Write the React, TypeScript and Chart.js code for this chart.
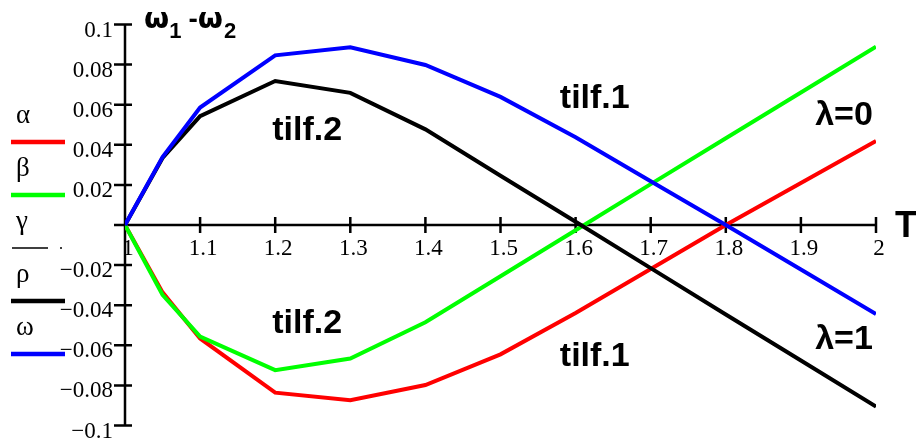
import { useEffect, useRef } from "react";
import { Chart, registerables } from "chart.js";

Chart.register(...registerables);

// Sample points of the period ratio T
const T = [1, 1.05, 1.1, 1.2, 1.3, 1.4, 1.5, 1.6, 1.7, 1.8, 1.9, 2];

// Frequency difference ω1-ω2 for each trace
const alpha = [0, -0.0336, -0.0566, -0.0836, -0.0874, -0.0798, -0.0645, -0.0439, -0.0219, 0, 0.021, 0.0419];
const beta = [0, -0.0348, -0.0556, -0.0724, -0.0666, -0.0485, -0.0256, -0.0026, 0.0204, 0.0433, 0.0661, 0.0889];
const rho = [0, 0.0334, 0.0543, 0.0718, 0.0659, 0.0477, 0.0246, 0.0016, -0.0215, -0.0446, -0.0676, -0.0906];
const omega = [0, 0.0339, 0.0586, 0.0846, 0.0886, 0.0798, 0.0639, 0.0438, 0.0218, 0, -0.0222, -0.0444];

// Axis ticks
const xTickValues = [1, 1.1, 1.2, 1.3, 1.4, 1.5, 1.6, 1.7, 1.8, 1.9, 2];
const xTickLabels = ["1", "1.1", "1.2", "1.3", "1.4", "1.5", "1.6", "1.7", "1.8", "1.9", "2"];
const yTickValues = [0.1, 0.08, 0.06, 0.04, 0.02, 0, -0.02, -0.04, -0.06, -0.08, -0.1];
const yTickLabels = ["0.1", "0.08", "0.06", "0.04", "0.02", "", "−0.02", "−0.04", "−0.06", "−0.08", "−0.1"];

// Trace legend (Greek symbol above a line sample)
const legendSymbols = ["α", "β", "γ", "ρ", "ω"];
const legendColors = ["#ff0000", "#00ff00", "#000000", "#000000", "#0000ff"];

// Text labels placed in data coordinates (left edge, baseline)
const noteTexts = ["tilf.2", "tilf.2", "tilf.1", "tilf.1", "λ=0", "λ=1"];
const noteT = [1.196, 1.196, 1.579, 1.579, 1.919, 1.919];
const noteY = [0.0422, -0.0538, 0.0583, -0.0703, 0.0498, -0.0618];

const SERIF = "'Liberation Serif', 'Times New Roman', serif";
const SANS = "'Liberation Sans', Arial, sans-serif";
const GREEK_BOLD = "'DejaVu Sans', 'Liberation Sans', sans-serif";

const toPoints = (ys: number[]) => T.map((t, i) => ({ x: t, y: ys[i] }));

const mathcadAxes = {
  id: "mathcadAxes",
  beforeDatasetsDraw(chart: any) {
    const { ctx } = chart;
    const xs = chart.scales.x;
    const ys = chart.scales.y;
    const x0 = xs.getPixelForValue(1);
    const x1 = xs.getPixelForValue(2);
    const y0 = ys.getPixelForValue(0);
    const yTop = ys.getPixelForValue(0.1);
    const yBot = ys.getPixelForValue(-0.1);
    ctx.save();
    ctx.strokeStyle = "#000";
    ctx.lineWidth = 2.5;
    ctx.lineCap = "butt";
    ctx.beginPath();
    ctx.moveTo(x0, yTop);
    ctx.lineTo(x0, yBot);
    ctx.moveTo(x0, y0);
    ctx.lineTo(x1, y0);
    yTickValues.forEach((v) => {
      const py = ys.getPixelForValue(v);
      ctx.moveTo(x0 - 11, py);
      ctx.lineTo(x0 + 7, py);
    });
    xTickValues.forEach((v) => {
      if (v === 1) return;
      const px = xs.getPixelForValue(v);
      ctx.moveTo(px, y0 - 8);
      ctx.lineTo(px, y0 + 8);
    });
    ctx.stroke();
    ctx.restore();
  },
  afterDraw(chart: any) {
    const { ctx } = chart;
    const xs = chart.scales.x;
    const ys = chart.scales.y;
    const x0 = xs.getPixelForValue(1);
    const x1 = xs.getPixelForValue(2);
    const y0 = ys.getPixelForValue(0);
    ctx.save();
    ctx.fillStyle = "#000";
    ctx.textBaseline = "alphabetic";

    // tick labels
    ctx.font = `23px ${SERIF}`;
    ctx.textAlign = "right";
    yTickValues.forEach((v, i) => {
      if (!yTickLabels[i]) return;
      ctx.fillText(yTickLabels[i], x0 - 12, ys.getPixelForValue(v) + 12);
    });
    ctx.textAlign = "center";
    xTickValues.forEach((v, i) => {
      ctx.fillText(xTickLabels[i], xs.getPixelForValue(v) + 3, y0 + 30);
    });

    // y-axis title: ω1-ω2
    ctx.textAlign = "left";
    let tx = x0 + 19;
    const piece = (s: string, font: string, base: number, gap = 0) => {
      ctx.font = font;
      ctx.fillText(s, tx, base);
      tx += ctx.measureText(s).width + gap;
    };
    piece("ω", `bold 29px ${GREEK_BOLD}`, 28, 0);
    piece("1", `bold 22px ${SANS}`, 38, 7);
    piece("-", `bold 28px ${SANS}`, 28, 0);
    piece("ω", `bold 29px ${GREEK_BOLD}`, 28, 1);
    piece("2", `bold 22px ${SANS}`, 38, 0);

    // x-axis title
    ctx.font = `bold 36px ${SANS}`;
    ctx.fillText("T", x1 + 19, y0 + 12);

    // annotations
    ctx.font = `bold 34px ${SANS}`;
    noteTexts.forEach((s, i) => {
      ctx.fillText(s, xs.getPixelForValue(noteT[i]), ys.getPixelForValue(noteY[i]));
    });

    // legend
    legendSymbols.forEach((s, i) => {
      const ly = 142 + i * 53;
      ctx.font = `27px ${SERIF}`;
      ctx.fillStyle = "#000";
      ctx.fillText(s, 16, ly - 19);
      ctx.strokeStyle = legendColors[i];
      ctx.beginPath();
      if (s === "γ") {
        ctx.lineWidth = 1.5;
        ctx.setLineDash([36, 12, 2, 12]);
        ctx.moveTo(12, ly);
        ctx.lineTo(65, ly);
      } else {
        ctx.lineWidth = 4.5;
        ctx.setLineDash([]);
        ctx.moveTo(11, ly);
        ctx.lineTo(65, ly);
      }
      ctx.stroke();
      ctx.setLineDash([]);
    });
    ctx.restore();
  },
};

export default function App() {
  const canvasRef = useRef<HTMLCanvasElement | null>(null);

  useEffect(() => {
    if (!canvasRef.current) return;
    const line = (data: number[], color: string, order: number) => ({
      data: toPoints(data),
      borderColor: color,
      backgroundColor: color,
      borderWidth: 4,
      pointRadius: 0,
      tension: 0,
      fill: false,
      order,
    });
    const chart = new Chart(canvasRef.current, {
      type: "line",
      data: {
        datasets: [
          line(alpha, "#ff0000", 4),
          line(beta, "#00ff00", 3),
          line(rho, "#000000", 2),
          line(omega, "#0000ff", 1),
        ],
      },
      options: {
        responsive: false,
        animation: false,
        events: [],
        layout: { padding: { left: 125, right: 40, top: 24.5, bottom: 15.5 } },
        plugins: { legend: { display: false }, tooltip: { enabled: false } },
        scales: {
          x: { type: "linear", min: 1, max: 2, display: false },
          y: { type: "linear", min: -0.1, max: 0.1, display: false },
        },
      },
      plugins: [mathcadAxes],
    });
    return () => chart.destroy();
  }, []);

  return (
    <div style={{ position: "fixed", left: 0, top: 0, width: 916, height: 441, background: "#fff" }}>
      <canvas ref={canvasRef} width={916} height={441} style={{ display: "block" }} />
    </div>
  );
}
